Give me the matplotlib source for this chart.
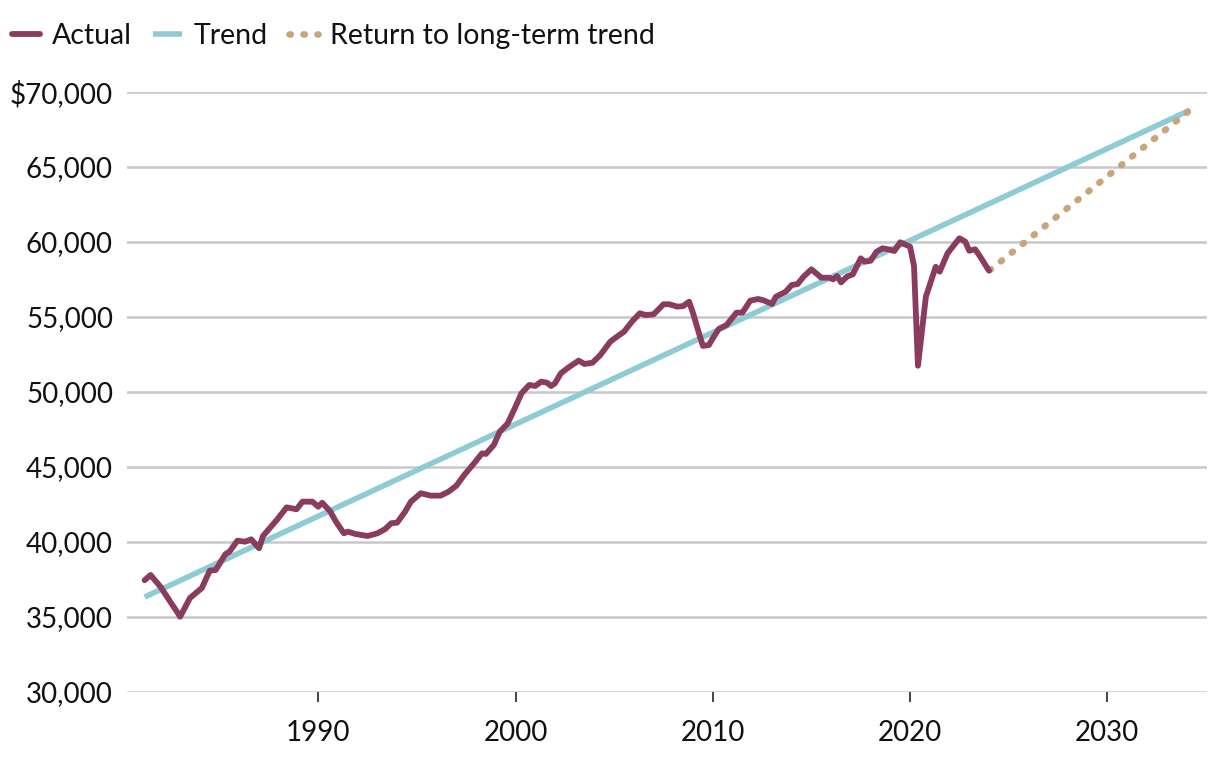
import matplotlib.pyplot as plt
from matplotlib.ticker import FuncFormatter

# Actual
actual_year = [1981.2, 1981.5, 1982.0, 1983.0, 1983.5, 1984.1, 1984.5, 1984.8, 1985.3, 1985.5,
               1985.9, 1986.3, 1986.6, 1987.0, 1987.2, 1987.9, 1988.4, 1988.9, 1989.2, 1989.7,
               1990.0, 1990.2, 1990.6, 1990.9, 1991.3, 1991.5, 1991.9, 1992.5, 1993.0, 1993.4,
               1993.7, 1994.0, 1994.4, 1994.7, 1995.2, 1995.7, 1996.2, 1996.6, 1997.0, 1997.4,
               1997.9, 1998.3, 1998.5, 1998.9, 1999.2, 1999.6, 2000.0, 2000.3, 2000.7, 2001.0,
               2001.3, 2001.6, 2001.8, 2002.0, 2002.3, 2002.7, 2003.2, 2003.5, 2003.9, 2004.3,
               2004.8, 2005.1, 2005.5, 2005.9, 2006.3, 2006.6, 2007.0, 2007.5, 2007.8, 2008.2,
               2008.5, 2008.8, 2009.0, 2009.3, 2009.5, 2009.8, 2010.0, 2010.3, 2010.7, 2011.2,
               2011.5, 2011.9, 2012.3, 2012.6, 2013.0, 2013.2, 2013.7, 2014.0, 2014.3, 2014.6,
               2015.0, 2015.3, 2015.5, 2015.9, 2016.1, 2016.3, 2016.5, 2016.8, 2017.1, 2017.5,
               2017.7, 2018.0, 2018.3, 2018.6, 2018.9, 2019.2, 2019.5, 2020.0, 2020.2, 2020.4,
               2020.8, 2021.3, 2021.5, 2021.9, 2022.5, 2022.8, 2023.0, 2023.3, 2023.5, 2024.0]
actual_val = [37450, 37800, 37020, 35020, 36270, 36930, 38090, 38130, 39200, 39350,
              40090, 40020, 40180, 39580, 40400, 41470, 42310, 42180, 42690, 42690,
              42350, 42620, 42050, 41350, 40580, 40690, 40530, 40400, 40580, 40870,
              41250, 41290, 42020, 42690, 43250, 43090, 43090, 43350, 43750, 44470,
              45250, 45910, 45870, 46470, 47350, 47900, 49020, 49910, 50470, 50400,
              50690, 50620, 50400, 50580, 51250, 51650, 52090, 51870, 51950, 52470,
              53350, 53650, 54020, 54690, 55250, 55130, 55180, 55850, 55850, 55690,
              55730, 56020, 55250, 53910, 53070, 53130, 53580, 54200, 54470, 55290,
              55290, 56090, 56200, 56100, 55870, 56350, 56690, 57130, 57200, 57690,
              58180, 57850, 57620, 57620, 57510, 57730, 57310, 57690, 57850, 58910,
              58690, 58750, 59350, 59580, 59510, 59400, 59980, 59690, 58400, 51750,
              56350, 58350, 58020, 59250, 60250, 60020, 59420, 59510, 59130, 58090]

# Trend line endpoints
trend_year = [1981.2, 2034.2]
trend_val = [36330, 68800]

# Return to long-term trend
ret_year = [2024.05, 2034.2]
ret_val = [58130, 68800]

c_actual = '#8a3c5f'
c_trend = '#8ecbd4'
c_ret = '#c9a57a'

plt.rcParams['font.family'] = ['Lato', 'DejaVu Sans']

fig = plt.figure(figsize=(12.2, 7.58), dpi=100)
ax = fig.add_axes([0.104, 0.0871, 0.885, 0.7915])

ax.plot(trend_year, trend_val, color=c_trend, lw=4.0, solid_capstyle='butt', label='Trend', zorder=2)
ax.plot(ret_year, ret_val, color=c_ret, lw=4.8, linestyle=(0, (0.2, 1.9)),
        dash_capstyle='round', label='Return to long-term trend', zorder=2)
ax.plot(actual_year, actual_val, color=c_actual, lw=4.2, solid_joinstyle='round',
        solid_capstyle='round', label='Actual', zorder=3)

ax.set_xlim(1980.3, 2035.03)
ax.set_ylim(30000, 70000)
ax.set_yticks(range(30000, 70001, 5000))
ax.set_xticks([1990, 2000, 2010, 2020, 2030])
ax.yaxis.set_major_formatter(FuncFormatter(lambda v, p: f'${v:,.0f}' if v == 70000 else f'{v:,.0f}'))

ax.grid(axis='y', color='#c8c8c8', lw=1.8)
ax.set_axisbelow(True)
for s in ax.spines.values():
    s.set_visible(False)
ax.tick_params(axis='y', length=0, pad=10, labelsize=20, labelcolor='#111111')
ax.tick_params(axis='x', length=7.5, width=1.1, color='#111111', pad=13, labelsize=20,
               labelcolor='#111111')

h, l = ax.get_legend_handles_labels()
order = [2, 0, 1]
fig.legend([h[i] for i in order], [l[i] for i in order], loc='upper left',
           bbox_to_anchor=(0.0, 0.9855), ncol=3, frameon=False, fontsize=20.5,
           handlelength=1.0, handletextpad=0.42, columnspacing=0.74, borderaxespad=0,
           borderpad=0.42, labelcolor='#111111')

fig.savefig('out.png', dpi=100)
